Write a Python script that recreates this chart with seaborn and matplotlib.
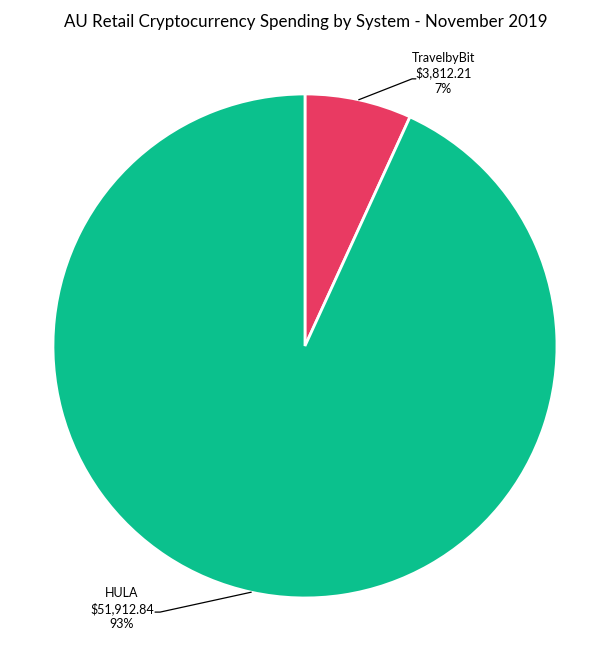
import numpy as np
import matplotlib
matplotlib.use("Agg")
import matplotlib.pyplot as plt
import seaborn as sns

# data
systems = ["TravelbyBit", "HULA"]
spending = [3812.21, 51912.84]
colors = ["#E93A62", "#0BC18D"]

sns.set_theme(style="white")
plt.rcParams['font.family'] = ['Lato', 'DejaVu Sans']

fig = plt.figure(figsize=(6.11, 6.58), dpi=100)
ax = fig.add_axes([0.0867, 0.0912, 0.8249, 0.766])

wedges, _ = ax.pie(spending, colors=colors, startangle=90, counterclock=False,
                   radius=1, wedgeprops=dict(edgecolor="white", linewidth=2))
ax.set_xlim(-1, 1)
ax.set_ylim(-1, 1)
ax.set_aspect("equal")
ax.axis("off")

total = sum(spending)
# label placement (text centre, elbow) per slice
text_pos = [(0.548, 1.083), (-0.726, -1.043)]
elbow = [(0.425, 1.06), (-0.575, -1.056)]
line_end = [(0.44, 1.06), (-0.595, -1.056)]

for i, w in enumerate(wedges):
    mid = np.deg2rad((w.theta1 + w.theta2) / 2)
    px, py = np.cos(mid), np.sin(mid)
    ax.plot([px, elbow[i][0], line_end[i][0]], [py, elbow[i][1], line_end[i][1]],
            color="black", lw=0.9, clip_on=False)
    pct = spending[i] / total * 100
    label = f"{systems[i]}\n${spending[i]:,.2f}\n{pct:.0f}%"
    ax.text(text_pos[i][0], text_pos[i][1], label, ha="center", va="center",
            fontsize=9, linespacing=1.3, color="black")

fig.text(0.5, 1 - 22 / 658, "AU Retail Cryptocurrency Spending by System - November 2019",
         ha="center", va="center", fontsize=12.2, color="black")

fig.savefig("out.png", dpi=100, facecolor="white")
